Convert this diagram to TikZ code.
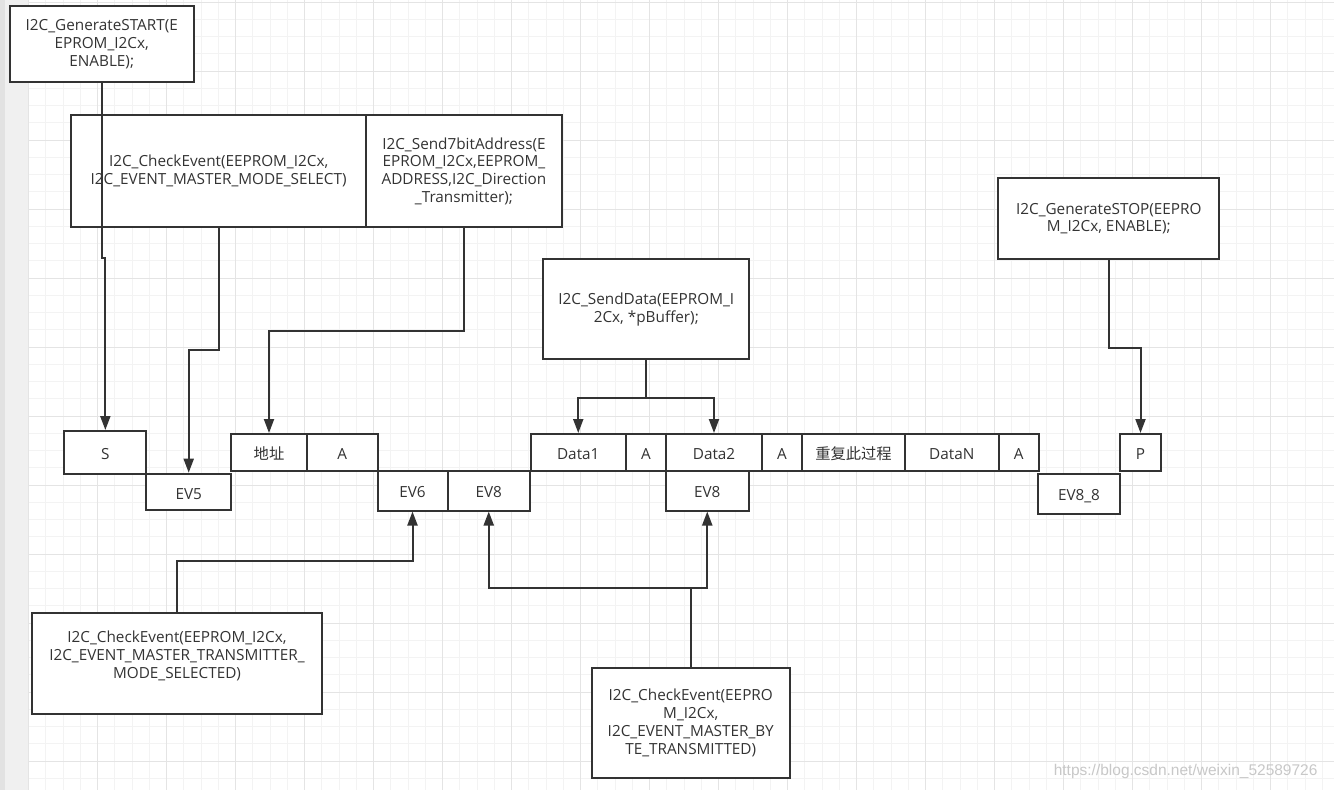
\documentclass[tikz,border=0pt]{standalone}
\usepackage{fontspec}
\setmainfont{Open Sans}
\newfontfamily\cjk{Noto Sans CJK SC}
\newfontfamily\wmfont{Liberation Sans}
\usetikzlibrary{arrows.meta}
\definecolor{dk}{HTML}{333333}
\definecolor{tx}{HTML}{333333}
\definecolor{gmin}{HTML}{F3F3F3}
\definecolor{gmaj}{HTML}{E4E4E4}
\definecolor{strip}{HTML}{F0F0F0}
\definecolor{stripd}{HTML}{E2E2E2}
\definecolor{wm}{HTML}{C8C8C8}
\begin{document}
\begin{tikzpicture}[x=1pt,y=-1pt,
  lbl/.style={text=tx,font=\fontsize{15.3}{17.8}\selectfont,align=center,inner sep=0pt},
  bx/.style={lbl,draw=dk,line width=2pt,fill=white},
  cell/.style={bx,text height=14pt,text depth=0pt},
  sz/.style 2 args={minimum width=#1pt,minimum height=#2pt},
  conn/.style={draw=dk,line width=2pt},
  arr/.style={conn,-{Triangle[length=14pt,width=10pt]}},
]
\useasboundingbox (0,0) rectangle (1334,790);
\fill[white] (0,0) rectangle (1334,790);
% grid
\foreach \i in {0,...,75} \draw[gmin,line width=1pt] ({28.7+17.25*\i},0) -- ({28.7+17.25*\i},790);
\foreach \j in {0,...,45} \draw[gmin,line width=1pt] (28.7,{2+17.25*\j}) -- (1334,{2+17.25*\j});
\foreach \i in {0,...,18} \draw[gmaj,line width=1pt] ({28.7+69*\i},0) -- ({28.7+69*\i},790);
\foreach \j in {0,...,11} \draw[gmaj,line width=1pt] (28.7,{2+69*\j}) -- (1334,{2+69*\j});
\fill[strip] (0,0) rectangle (28,790);
\fill[stripd] (0,0) rectangle (5,790);

% upper function boxes
\node[bx,sz={183.5}{76.3}] (start) at (101.75,44.15) {I2C\_GenerateSTART(E\\EPROM\_I2Cx,\\ENABLE);};
\node[bx,sz={295.3}{111.7}] (ck1) at (218.65,171.15) {I2C\_CheckEvent(EEPROM\_I2Cx,\\I2C\_EVENT\_MASTER\_MODE\_SELECT)};
\node[bx,sz={195.3}{111.7}] (s7) at (463.95,171.15) {I2C\_Send7bitAddress(E\\EPROM\_I2Cx,EEPROM\_\\ADDRESS,I2C\_Direction\\\_Transmitter);};
\node[bx,sz={221}{80.7}] (stop) at (1108.8,218.65) {I2C\_GenerateSTOP(EEPRO\\M\_I2Cx, ENABLE);};
\node[bx,sz={206}{99.7}] (send) at (646.3,309.15) {I2C\_SendData(EEPROM\_I\\2Cx, *pBuffer);};

% sequence row
\node[cell,sz={82.1}{42.7}] (S) at (105.35,452.35) {S};
\node[cell,sz={84.6}{36.6}] (EV5) at (188.7,492) {EV5};
\node[cell,sz={76}{36.5}] (addr) at (269,452.25) {\cjk 地址};
\node[cell,sz={70.5}{36.5}] (A1) at (342.25,452.25) {A};
\node[cell,sz={70}{40}] (EV6) at (412.5,490.5) {EV6};
\node[cell,sz={82.5}{40}] (EV8a) at (488.75,490.5) {EV8};
\node[cell,sz={95.5}{36.5}] (D1) at (578.25,452.25) {Data1};
\node[cell,sz={40}{36.5}] (A2) at (646,452.25) {A};
\node[cell,sz={96}{36.5}] (D2) at (714,452.25) {Data2};
\node[cell,sz={40}{36.5}] (A3) at (782,452.25) {A};
\node[cell,sz={103}{36.5}] (rep) at (853.5,452.25) {\cjk 重复此过程};
\node[cell,sz={93.5}{36.5}] (DN) at (951.75,452.25) {DataN};
\node[cell,sz={40.5}{36.5}] (A4) at (1018.75,452.25) {A};
\node[cell,sz={41}{36.5}] (P) at (1140.5,452.25) {P};
\node[cell,sz={82.5}{40}] (EV8b) at (707.25,490.5) {EV8};
\node[cell,sz={82}{39.7}] (EV88) at (1079,493.85) {EV8\_8};

% lower boxes
\node[bx,sz={289.4}{100.7}] (trans) at (177,663.65) {};
\node[lbl] (transtxt) at (177,656) {I2C\_CheckEvent(EEPROM\_I2Cx,\\I2C\_EVENT\_MASTER\_TRANSMITTER\_\\MODE\_SELECTED)};
\node[bx,sz={198.5}{110.6}] (bytx) at (690.75,723) {I2C\_CheckEvent(EEPRO\\M\_I2Cx,\\I2C\_EVENT\_MASTER\_BY\\TE\_TRANSMITTED)};

% connectors
\draw[arr] (start.south) -- ++(0,175) -| (S.north);
\draw[arr] (ck1.south) -- ++(0,122) -| (EV5.north);
\draw[arr] (s7.south) -- ++(0,102.7) -| (addr.north);
\draw[arr] (stop.south) -- ++(0,88.3) -| (P.north);
\draw[conn] (send.south) -- ++(0,37.7) coordinate (sj);
\draw[arr] (sj) -| (D1.north);
\draw[arr] (sj) -| (D2.north);
\draw[arr] (trans.north) -- ++(0,-51.6) -| (EV6.south);
\draw[conn] (bytx.north) -- ++(0,-79) coordinate (bj);
\draw[arr] (bj) -| (EV8a.south);
\draw[arr] (bj) -| (EV8b.south);

% watermark
\node[font=\wmfont\fontsize{15.5}{18}\selectfont,text=wm,anchor=west,inner sep=0pt] (wmk) at (1053.6,771.7) {https://blog.csdn.net/weixin\_52589726};
\end{tikzpicture}
\end{document}
